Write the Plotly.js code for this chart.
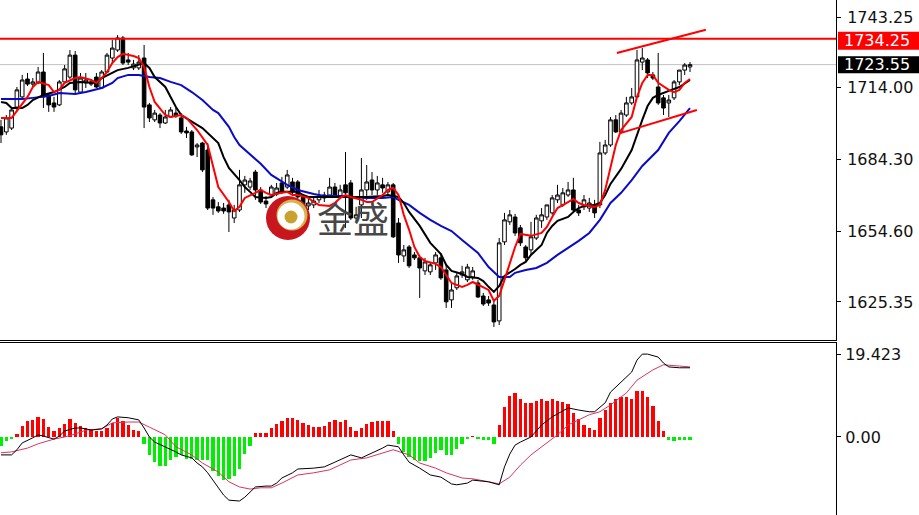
<!DOCTYPE html>
<html>
<head>
<meta charset="utf-8">
<script src="https://cdn.plot.ly/plotly-3.0.1.min.js"></script>
<style>
  html, body { margin: 0; padding: 0; background: #ffffff; }
  #chart { width: 919px; height: 515px; }
</style>
</head>
<body>
<div id="chart"></div>
<script>
// ---- price bars (H1 gold) ----
const openP = [1697.8,1695.7,1697.3,1706.0,1710.2,1717.6,1715.5,1716.0,1720.5,1711.0,
  1707.7,1706.9,1716.4,1718.4,1727.5,1712.2,1716.0,1716.4,1718.4,1713.9,
  1720.5,1726.3,1729.6,1734.6,1725.5,1722.2,1722.2,1726.3,1706.9,1700.7,
  1702.7,1699.4,1701.9,1703.5,1701.5,1696.1,1695.7,1689.5,1691.1,1688.2,
  1667.6,1664.7,1664.2,1665.5,1660.1,1663.4,1673.8,1672.9,1679.1,1671.7,
  1667.1,1669.6,1670.0,1674.6,1672.9,1675.0,1675.0,1668.8,1665.1,1665.5,
  1667.6,1668.4,1669.6,1672.9,1668.8,1673.8,1674.6,1660.1,1665.5,1671.7,
  1675.8,1671.7,1673.8,1670.9,1673.8,1658.0,1644.4,1648.1,1644.8,1643.6,
  1638.2,1637.8,1641.5,1643.6,1638.6,1626.2,1631.2,1636.5,1634.5,1635.7,
  1633.2,1627.8,1626.2,1624.1,1617.5,1650.2,1658.5,1660.5,1656.0,1648.1,
  1646.9,1651.8,1658.9,1660.5,1662.2,1667.6,1665.5,1669.6,1671.7,1663.4,
  1664.7,1664.2,1665.5,1665.5,1687.0,1690.3,1700.7,1695.7,1702.7,1707.7,
  1710.2,1724.6,1725.5,1719.3,1714.3,1709.8,1707.7,1709.8,1716.4,1721.3,
  1722.6];
const highP = [1700.7,1702.7,1706.0,1714.3,1719.3,1720.1,1718.0,1722.6,1728.4,1711.8,
  1710.2,1717.2,1723.4,1729.6,1729.2,1720.1,1720.1,1717.6,1720.1,1721.3,
  1728.4,1733.8,1735.8,1735.4,1728.4,1725.5,1727.5,1731.7,1707.7,1704.8,
  1703.5,1704.8,1706.0,1705.6,1703.5,1697.8,1696.5,1691.1,1691.6,1691.1,
  1668.8,1666.7,1666.3,1667.6,1665.5,1680.0,1677.5,1676.7,1680.0,1672.9,
  1669.2,1673.8,1674.6,1677.1,1680.0,1676.7,1675.8,1669.6,1668.0,1669.2,
  1671.7,1670.9,1676.7,1674.6,1673.8,1687.4,1675.8,1664.7,1684.9,1682.0,
  1679.1,1677.5,1676.7,1675.0,1674.6,1660.1,1648.9,1648.9,1646.0,1644.8,
  1643.6,1641.9,1646.0,1645.6,1640.7,1633.2,1637.8,1640.3,1641.1,1639.8,
  1634.5,1629.1,1627.8,1626.2,1651.8,1662.2,1663.4,1661.8,1657.2,1648.9,
  1658.5,1661.4,1664.2,1665.5,1669.6,1673.8,1672.5,1675.0,1676.7,1665.5,
  1669.6,1668.4,1667.6,1691.6,1692.4,1701.9,1702.7,1704.8,1710.2,1713.9,
  1729.6,1730.4,1726.3,1720.5,1728.4,1711.0,1711.0,1717.2,1721.3,1724.2,
  1724.6];
const lowP = [1691.1,1694.5,1696.5,1704.8,1709.3,1714.7,1714.3,1715.5,1705.6,1704.0,
  1704.0,1706.4,1715.5,1717.6,1711.8,1711.4,1713.9,1714.7,1713.9,1713.5,
  1720.1,1724.2,1728.8,1723.4,1723.4,1721.3,1721.3,1697.3,1699.8,1699.8,
  1697.3,1699.0,1701.5,1701.5,1694.9,1693.2,1685.8,1685.3,1679.1,1663.4,
  1661.4,1662.2,1661.8,1654.3,1658.0,1662.6,1670.5,1671.7,1667.6,1665.9,
  1664.2,1668.8,1669.2,1670.0,1672.1,1670.0,1668.0,1662.6,1663.4,1664.2,
  1666.3,1666.7,1668.8,1668.8,1668.0,1656.0,1659.3,1658.5,1660.1,1667.6,
  1669.6,1669.6,1670.5,1669.6,1651.8,1641.5,1641.9,1639.4,1642.7,1627.0,
  1636.5,1636.5,1638.6,1634.5,1622.9,1622.9,1630.3,1635.3,1633.6,1634.5,
  1627.0,1623.7,1623.7,1615.0,1615.8,1648.9,1657.2,1652.7,1648.5,1641.9,
  1644.8,1651.0,1656.0,1659.3,1661.4,1666.3,1664.7,1668.8,1662.6,1660.9,
  1663.4,1662.6,1660.1,1664.2,1686.2,1689.5,1695.3,1694.9,1701.9,1706.9,
  1709.8,1721.3,1718.0,1717.2,1706.9,1702.7,1701.9,1708.9,1715.1,1719.3,
  1720.5];
const closeP = [1694.5,1701.5,1704.8,1713.1,1717.2,1715.5,1716.4,1720.5,1710.2,1706.9,
  1706.0,1716.4,1721.8,1727.5,1713.1,1718.0,1717.2,1715.5,1714.3,1720.5,
  1727.5,1730.4,1734.6,1724.2,1724.6,1723.8,1724.6,1706.0,1701.5,1703.5,
  1699.4,1701.9,1704.8,1702.3,1695.7,1695.3,1686.2,1690.3,1680.0,1664.2,
  1664.2,1663.0,1663.0,1662.6,1663.4,1673.8,1675.8,1675.4,1671.7,1666.7,
  1665.9,1672.9,1672.5,1670.9,1677.9,1670.9,1668.8,1664.7,1666.3,1667.1,
  1669.2,1669.6,1672.9,1669.6,1671.7,1670.5,1660.1,1661.4,1671.7,1675.0,
  1671.7,1674.6,1672.5,1673.8,1652.3,1644.8,1646.9,1640.3,1643.6,1639.4,
  1641.9,1640.7,1644.8,1635.3,1625.4,1630.3,1636.1,1637.8,1639.8,1638.2,
  1627.4,1624.5,1624.9,1617.1,1649.8,1659.3,1661.4,1653.9,1649.8,1643.6,
  1652.3,1660.1,1661.4,1665.5,1668.4,1669.6,1670.5,1671.7,1663.4,1662.2,
  1667.6,1666.3,1662.2,1687.0,1690.3,1700.7,1695.7,1703.5,1707.7,1710.2,
  1725.5,1726.3,1720.1,1718.0,1707.7,1705.6,1708.9,1716.4,1721.3,1723.4,
  1723.55];

// ---- moving averages (bar index, value) ----
const maFastIdx = [0,2,5,6,7,9,10,11,12,14,15,17,18,19,20,21,22,23,25,26,27,28,29,31,32,34,35,37,39,40,41,43,44,45,46,48,49,50,51,53,54,55,56,58,59,60,62,63,64,65,66,68,69,70,72,73,74,75,76,77,78,79,80,82,83,84,85,87,88,89,90,92,93,94,95,96,97,98,99,100,102,103,104,105,107,108,109,110,112,113,114,115,116,117,119,120,121,122,123,124,126,127,128,129,130];
const maFastVal = [1701.5,1701.5,1710.2,1714.3,1716.4,1715.1,1712.2,1713.1,1716.0,1718.0,1718.4,1717.2,1716.0,1718.0,1720.5,1724.2,1726.7,1728.0,1727.1,1726.3,1722.6,1714.3,1708.1,1702.7,1701.9,1702.7,1701.5,1696.5,1690.3,1681.2,1672.9,1666.7,1663.0,1664.7,1668.4,1670.5,1671.7,1670.5,1669.6,1670.5,1670.9,1669.6,1669.6,1668.4,1666.7,1665.5,1665.1,1666.3,1668.4,1669.6,1668.8,1667.6,1666.7,1666.7,1669.6,1671.7,1672.5,1669.6,1661.4,1655.2,1648.1,1644.0,1642.3,1641.1,1639.8,1636.5,1633.2,1631.6,1632.4,1633.6,1632.4,1630.3,1625.8,1627.8,1634.5,1641.5,1648.1,1653.5,1653.1,1652.7,1653.9,1656.4,1660.5,1664.2,1666.7,1668.0,1666.3,1665.5,1664.7,1665.5,1671.7,1681.2,1690.3,1696.5,1701.9,1710.2,1716.0,1719.3,1719.3,1716.0,1713.1,1712.2,1713.1,1716.0,1717.6];

const maMidIdx = [0,1,2,4,5,6,8,10,12,13,15,17,18,19,21,22,24,26,27,28,29,31,32,33,34,36,37,38,39,41,42,43,45,46,47,48,50,51,52,53,55,56,57,58,60,61,62,63,65,66,69,72,73,75,76,77,79,81,83,84,85,87,88,90,91,92,93,94,95,97,98,99,100,102,103,104,105,107,108,109,110,112,113,114,115,117,119,121,122,123,124,126,128,130];
const maMidVal = [1708.1,1707.7,1705.6,1705.6,1706.9,1708.9,1711.0,1712.2,1714.3,1716.0,1716.4,1716.0,1716.0,1718.0,1720.1,1721.3,1722.2,1723.4,1724.2,1722.2,1718.4,1714.3,1710.2,1706.0,1702.7,1699.8,1698.6,1697.3,1695.3,1691.1,1685.3,1680.8,1675.8,1672.9,1670.9,1668.8,1668.4,1668.8,1670.5,1670.9,1670.9,1670.9,1669.6,1668.8,1668.8,1668.8,1668.8,1668.8,1668.8,1668.8,1668.8,1669.2,1669.6,1668.8,1666.3,1662.6,1656.8,1649.8,1645.2,1640.7,1638.2,1636.9,1635.7,1635.3,1634.0,1631.6,1629.5,1632.0,1636.1,1639.0,1640.7,1641.9,1644.8,1648.9,1653.9,1656.8,1658.9,1660.5,1662.6,1664.2,1665.1,1665.5,1666.3,1669.6,1674.2,1680.4,1688.2,1700.7,1706.4,1709.8,1711.0,1712.7,1714.3,1717.2];

const maSlowIdx = [0,4,6,9,11,14,16,19,21,22,24,26,28,30,32,34,36,38,40,41,43,44,45,47,49,51,54,56,59,61,63,65,66,69,72,74,75,77,79,81,83,85,87,90,92,94,96,97,99,101,103,105,107,109,111,113,115,117,119,121,124,126,128,130];
const maSlowVal = [1709.3,1709.3,1709.8,1710.6,1711.8,1711.4,1712.2,1713.9,1716.0,1718.0,1719.3,1719.3,1718.4,1718.0,1716.4,1715.1,1712.2,1708.9,1704.8,1703.5,1697.8,1693.6,1690.3,1686.2,1682.5,1677.9,1673.8,1671.7,1670.0,1669.2,1669.2,1669.2,1668.8,1668.4,1668.4,1668.8,1667.6,1665.5,1662.2,1659.3,1656.8,1654.7,1651.0,1645.6,1639.8,1635.7,1635.7,1637.4,1638.6,1639.4,1641.5,1644.8,1647.7,1650.6,1653.9,1659.3,1666.3,1670.5,1675.8,1681.6,1688.2,1695.3,1700.2,1705.6];

// ---- MACD panel ----
const macdHist = [-2.2,-1.0,-0.5,0.7,2.5,3.8,4.0,4.7,4.2,2.4,1.4,2.2,3.0,4.2,3.2,2.5,2.0,1.8,1.4,1.3,2.1,3.3,4.5,3.8,2.8,1.6,1.3,
  -1.7,-4.3,-5.9,-6.7,-6.7,-5.5,-4.6,-4.3,-5.1,-5.1,-5.5,-5.5,-5.5,-7.9,-9.1,-10.1,-9.8,-9.1,-7.4,-3.9,-2.2,
  0.9,0.9,0.9,2.0,3.0,3.8,4.4,4.4,
  4.0,3.3,2.7,2.3,2.3,2.6,3.6,4.0,3.6,4.0,2.3,1.4,2.1,3.1,3.6,3.7,3.7,3.7,1.4,
  -1.7,-3.5,-4.7,-5.3,-5.6,-5.6,-5.0,-3.8,-3.1,-4.3,-4.3,-2.7,-1.7,-0.4,
  0.3,
  -0.4,-0.8,-0.8,-1.7,
  2.8,7.1,9.6,10.4,9.0,8.0,8.0,8.5,8.8,8.5,8.8,8.5,8.2,7.8,5.7,4.3,2.8,2.1,1.7,4.5,6.4,8.0,8.8,9.3,9.3,9.0,10.7,10.7,9.3,7.3,3.8,1.4,
  -0.8,-1.0,-0.6,-0.6,-0.6];

const macdIdx = [0,2,3,4,6,7,8,10,11,12,14,15,16,17,19,20,21,22,24,25,26,27,28,29,31,32,33,34,36,37,38,39,41,42,43,45,46,47,48,50,51,52,53,55,56,59,61,63,65,66,68,70,72,73,75,76,77,79,81,83,85,86,88,89,91,92,94,95,96,97,98,100,102,104,106,107,109,111,112,114,115,117,119,120,121,122,124,125,126,128,130];
const macdVal = [-4.2,-4.2,-3.0,-1.4,-0.2,0.5,0.2,-0.5,0.2,1.4,2.1,2.1,1.9,1.6,1.9,2.8,4.2,4.7,4.5,4.2,4.0,2.1,0.0,-1.2,-2.3,-3.0,-3.5,-4.2,-4.9,-6.1,-7.0,-8.4,-11.7,-13.6,-14.8,-15.0,-14.1,-12.9,-11.7,-11.5,-11.5,-10.8,-9.6,-8.4,-7.5,-7.3,-7.0,-5.9,-4.7,-4.2,-4.9,-3.8,-2.6,-1.9,-2.3,-4.2,-5.9,-7.3,-8.9,-9.4,-11.0,-11.2,-10.8,-10.1,-10.3,-10.5,-11.2,-7.0,-4.0,-1.9,-1.2,0.0,2.8,4.7,6.1,6.8,6.3,5.9,5.9,8.0,10.5,12.9,15.2,18.0,19.4,19.4,18.7,17.3,16.4,16.2,16.2];

const signalIdx = [0,2,5,7,10,12,14,16,19,21,24,26,28,31,33,36,38,41,43,45,47,49,51,53,56,59,62,64,66,69,72,74,77,79,82,84,87,89,92,94,96,98,100,103,105,107,109,111,113,115,118,120,123,125,128,130];
const signalVal = [-3.7,-3.5,-2.6,-1.6,-0.5,0.0,0.7,1.6,1.9,3.3,3.5,3.5,2.3,0.5,-2.3,-4.2,-6.1,-8.2,-10.5,-11.7,-12.2,-11.9,-11.9,-10.8,-8.9,-8.4,-7.7,-6.6,-5.4,-4.9,-3.7,-3.0,-4.2,-6.1,-7.3,-8.4,-9.6,-9.8,-10.5,-11.0,-9.4,-6.6,-4.2,-1.4,0.5,2.8,4.0,5.2,5.9,7.5,10.3,13.3,15.7,16.9,16.6,16.4];

// ---- axis labels, levels and drawn trend lines ----
const priceTicks = [1743.25, 1714.00, 1684.30, 1654.60, 1625.35];
const priceTickText = ['1743.25', '1714.00', '1684.30', '1654.60', '1625.35'];
const macdTicks = [19.423, 0];
const macdTickText = ['19.423', '0.00'];
const resistLevel = 1734.25;
const lastPrice = 1723.55;
const trendUpX = [116.2, 133.0], trendUpY = [1728.4, 1738.0];
const trendLowX = [117.0, 131.3], trendLowY = [1695.3, 1704.8];

const barIdx = openP.map((_, i) => i);
const FONT = 'DejaVu Sans, Verdana, sans-serif';

const traces = [
  {
    type: 'candlestick', x: barIdx, open: openP, high: highP, low: lowP, close: closeP,
    xaxis: 'x', yaxis: 'y', whiskerwidth: 0, hoverinfo: 'skip', showlegend: false,
    increasing: { line: { color: '#000000', width: 1 }, fillcolor: '#ffffff' },
    decreasing: { line: { color: '#000000', width: 1 }, fillcolor: '#000000' }
  },
  { type: 'scatter', mode: 'lines', x: maSlowIdx, y: maSlowVal, xaxis: 'x', yaxis: 'y',
    line: { color: '#0a0ac8', width: 2 }, hoverinfo: 'skip', showlegend: false },
  { type: 'scatter', mode: 'lines', x: maMidIdx, y: maMidVal, xaxis: 'x', yaxis: 'y',
    line: { color: '#000000', width: 2 }, hoverinfo: 'skip', showlegend: false },
  { type: 'scatter', mode: 'lines', x: maFastIdx, y: maFastVal, xaxis: 'x', yaxis: 'y',
    line: { color: '#ff0000', width: 2 }, hoverinfo: 'skip', showlegend: false },
  { type: 'bar', x: barIdx, y: macdHist, xaxis: 'x2', yaxis: 'y2', width: 0.62,
    marker: { color: macdHist.map(v => v >= 0 ? '#ff0000' : '#00ee00'), line: { width: 0 } },
    hoverinfo: 'skip', showlegend: false },
  { type: 'scatter', mode: 'lines', x: signalIdx, y: signalVal, xaxis: 'x2', yaxis: 'y2',
    line: { color: '#d8355f', width: 1 }, hoverinfo: 'skip', showlegend: false },
  { type: 'scatter', mode: 'lines', x: macdIdx, y: macdVal, xaxis: 'x2', yaxis: 'y2',
    line: { color: '#000000', width: 1 }, hoverinfo: 'skip', showlegend: false }
];

// logo mark: discs positioned in pixels around a paper anchor
const LOGO_X = 288 / 836, LOGO_Y = (515 - 218) / 515;
function disc(dx, dy, r, color) {
  return {
    type: 'circle', layer: 'above', xref: 'paper', yref: 'paper',
    xsizemode: 'pixel', ysizemode: 'pixel', xanchor: LOGO_X, yanchor: LOGO_Y,
    x0: dx - r, x1: dx + r, y0: dy - r, y1: dy + r,
    fillcolor: color, line: { width: 0 }
  };
}

const shapes = [
  { type: 'line', xref: 'paper', yref: 'y', x0: 0, x1: 1, y0: lastPrice, y1: lastPrice,
    line: { color: '#c0c0c0', width: 1 }, layer: 'below' },
  { type: 'line', xref: 'paper', yref: 'y', x0: 0, x1: 1, y0: resistLevel, y1: resistLevel,
    line: { color: '#ff0000', width: 2 } },
  { type: 'line', xref: 'x', yref: 'y', x0: trendUpX[0], x1: trendUpX[1], y0: trendUpY[0], y1: trendUpY[1],
    line: { color: '#ff0000', width: 2 } },
  { type: 'line', xref: 'x', yref: 'y', x0: trendLowX[0], x1: trendLowX[1], y0: trendLowY[0], y1: trendLowY[1],
    line: { color: '#ff0000', width: 2 } },
  // price tags on the scale
  { type: 'rect', xref: 'paper', yref: 'y', xsizemode: 'pixel', ysizemode: 'pixel',
    xanchor: 1, yanchor: resistLevel, x0: 2, x1: 83, y0: -11, y1: 7,
    fillcolor: '#ff0000', line: { width: 0 } },
  { type: 'rect', xref: 'paper', yref: 'y', xsizemode: 'pixel', ysizemode: 'pixel',
    xanchor: 1, yanchor: lastPrice, x0: 2, x1: 83, y0: -8.5, y1: 8.5,
    fillcolor: '#000000', line: { width: 0 } },
  // logo
  disc(0, 0, 22, '#c8161e'),
  disc(4, 3, 15.5, '#d8b24a'),
  disc(3, 2, 13.5, '#ffffff'),
  disc(3, 1, 6.5, '#c9a22e')
];

const annotations = [
  { xref: 'paper', yref: 'y', x: 1, y: resistLevel, xanchor: 'left', yanchor: 'middle',
    xshift: 6, yshift: -2, showarrow: false, text: '1734.25',
    font: { family: FONT, size: 16, color: '#ffffff' } },
  { xref: 'paper', yref: 'y', x: 1, y: lastPrice, xanchor: 'left', yanchor: 'middle',
    xshift: 6, yshift: 0, showarrow: false, text: '1723.55',
    font: { family: FONT, size: 16, color: '#ffffff' } },
  { xref: 'paper', yref: 'paper', x: 353 / 836, y: (515 - 217) / 515, xanchor: 'center', yanchor: 'middle',
    showarrow: false, text: '金盛',
    font: { family: 'Noto Sans CJK SC, sans-serif', size: 36, color: '#474747' } }
];

const xRange = [-0.19, 157.55];

const layout = {
  width: 919, height: 515,
  margin: { l: 0, r: 83, t: 0, b: 0, pad: 0 },
  paper_bgcolor: '#ffffff', plot_bgcolor: '#ffffff',
  showlegend: false, hovermode: false,
  boxgap: 0.32, boxgroupgap: 0,
  bargap: 0,
  xaxis: {
    domain: [0, 1], anchor: 'y', range: xRange, type: 'linear',
    showticklabels: false, ticks: '', showgrid: false, zeroline: false,
    showline: true, linecolor: '#000000', linewidth: 1,
    rangeslider: { visible: false }, fixedrange: true
  },
  xaxis2: {
    domain: [0, 1], anchor: 'y2', matches: 'x', range: xRange, type: 'linear', side: 'top',
    showticklabels: false, ticks: '', showgrid: false, zeroline: false,
    showline: true, linecolor: '#000000', linewidth: 1, fixedrange: true
  },
  yaxis: {
    domain: [(515 - 340) / 515, 1], anchor: 'x', side: 'right', range: [1609.6, 1750.3],
    showgrid: false, zeroline: false, showline: true, linecolor: '#000000', linewidth: 1,
    ticks: 'outside', ticklen: 4, tickcolor: '#000000', tickwidth: 1,
    tickmode: 'array', tickvals: priceTicks, ticktext: priceTickText, ticklabelstandoff: 3,
    tickfont: { family: FONT, size: 16, color: '#111111' }, fixedrange: true
  },
  yaxis2: {
    domain: [0, (515 - 343) / 515], anchor: 'x2', side: 'right', range: [-18.27, 22.0],
    showgrid: false, zeroline: false, showline: true, linecolor: '#000000', linewidth: 1,
    ticks: 'outside', ticklen: 4, tickcolor: '#000000', tickwidth: 1,
    tickmode: 'array', tickvals: macdTicks, ticktext: macdTickText, ticklabelstandoff: 1,
    tickfont: { family: FONT, size: 16, color: '#111111' }, fixedrange: true
  },
  shapes: shapes,
  annotations: annotations
};

Plotly.newPlot('chart', traces, layout, { staticPlot: true, displayModeBar: false });
</script>
</body>
</html>
